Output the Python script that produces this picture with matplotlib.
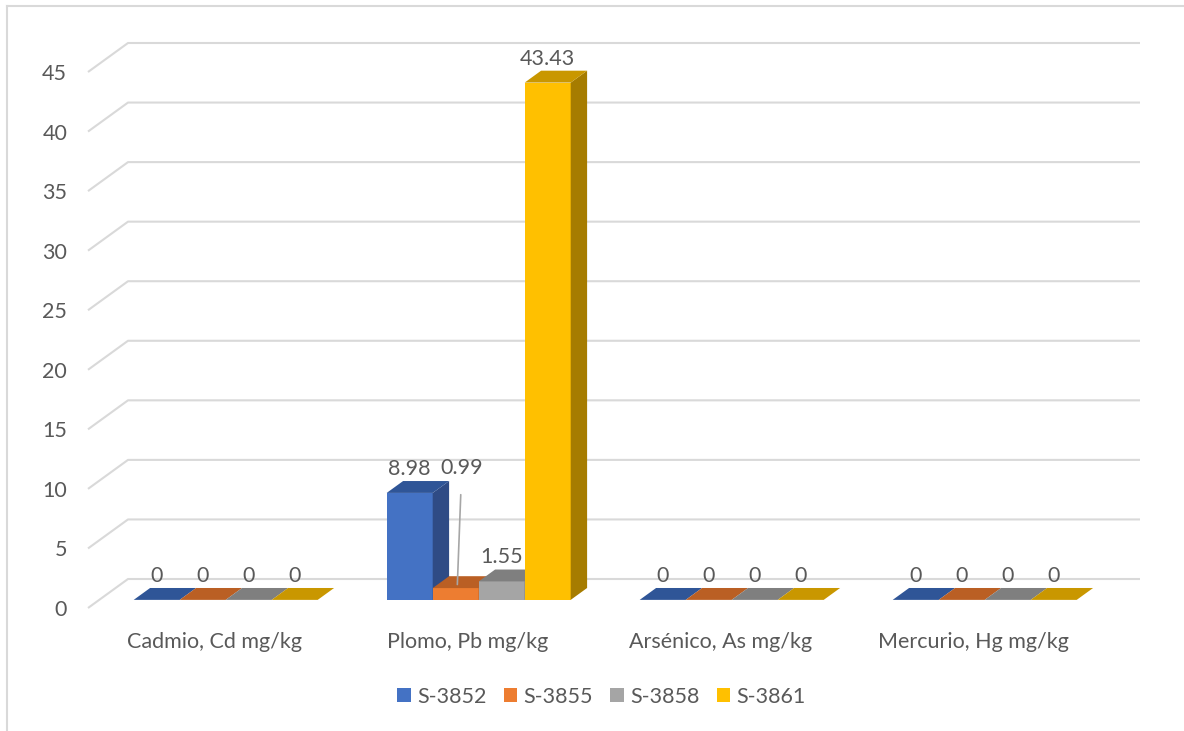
import matplotlib.pyplot as plt
from matplotlib.patches import Polygon, Patch
from matplotlib.lines import Line2D

plt.rcParams['font.family'] = ['Lato', 'DejaVu Sans']

# datos
categorias = ['Cadmio, Cd mg/kg', 'Plomo, Pb mg/kg', 'Arsénico, As mg/kg', 'Mercurio, Hg mg/kg']
series = ['S-3852', 'S-3855', 'S-3858', 'S-3861']
s3852 = [0, 8.98, 0, 0]
s3855 = [0, 0.99, 0, 0]
s3858 = [0, 1.55, 0, 0]
s3861 = [0, 43.43, 0, 0]
valores = [s3852, s3855, s3858, s3861]
yticks = [0, 5, 10, 15, 20, 25, 30, 35, 40, 45]

# colores: frente, lado, tope
colores = [
    ('#4472C4', '#2F4B85', '#2F5597'),
    ('#ED7D31', '#A9581F', '#BA5F24'),
    ('#A5A5A5', '#6E6E6E', '#7F7F7F'),
    ('#FFC000', '#A67C00', '#C99700'),
]
GRID = '#D9D9D9'
TXT = '#595959'
FS = 15.5

W, H = 1184, 731
fig = plt.figure(figsize=(W / 100, H / 100), dpi=100)

# profundidad de la pared en unidades de datos
DX = 40 / 253
DY = 29 / 11.91
ymax = 45

# ejes: borde izq = plano frontal, borde der = pared del fondo
left, right, bottom, top = 88, 1140, 608, 43
ax = fig.add_axes([left / W, 1 - bottom / H, (right - left) / W, (bottom - top) / H])
ax.set_xlim(-0.5, len(categorias) - 0.5 + DX)
ax.set_ylim(0, ymax + DY)
for s in ax.spines.values():
    s.set_visible(False)

# rejilla 3D
x0 = -0.5
x1 = len(categorias) - 0.5 + DX
for v in yticks:
    ax.plot([x0, x0 + DX, x1], [v, v + DY, v + DY], color=GRID, lw=1.5,
            zorder=0, clip_on=False, solid_capstyle='butt')

ax.set_yticks(yticks)
ax.set_yticklabels([str(v) for v in yticks], fontsize=FS, color=TXT)
ax.tick_params(axis='y', length=0, pad=15)
ax.set_xticks(range(len(categorias)))
ax.set_xticklabels(categorias, fontsize=FS, color=TXT)
ax.tick_params(axis='x', length=0, pad=17)

# barras
f = 0.28          # posición del frente de las barras dentro de la profundidad
prof = 0.41       # profundidad de la barra (fracción)
bdx, bdy = prof * DX, prof * DY
ancho = 46 / 253
base = f * DY
z = 2
for i in range(len(categorias)):
    for j, serie in enumerate(valores):
        v = serie[i]
        xc = i + f * DX + (j - 1.5) * ancho
        xl, xr = xc - ancho / 2, xc + ancho / 2
        fr, lado, tope = colores[j]
        ax.bar(xc, v, width=ancho, bottom=base, color=fr, edgecolor='none', zorder=z)
        yt = base + v
        ax.add_patch(Polygon([(xr, base), (xr + bdx, base + bdy), (xr + bdx, yt + bdy), (xr, yt)],
                             closed=True, color=lado, lw=0, zorder=z + 0.1))
        ax.add_patch(Polygon([(xl, yt), (xl + bdx, yt + bdy), (xr + bdx, yt + bdy), (xr, yt)],
                             closed=True, color=tope, lw=0, zorder=z + 0.2))
        z += 1
        etiqueta = f'{v:g}' if v != 0 else '0'
        if serie is s3855 and v > 0:
            # etiqueta desplazada con línea guía
            ax.annotate(etiqueta, xy=(xc + bdx * 0.1, yt + bdy * 0.3),
                        xytext=(xc + 0.024, 11.75), ha='center', va='center',
                        fontsize=FS, color=TXT, zorder=50,
                        arrowprops=dict(arrowstyle='-', color='#A6A6A6', lw=1.2,
                                        shrinkA=10, shrinkB=0))
        else:
            ax.annotate(etiqueta, xy=(xc, yt + bdy), xytext=(0, 1.5),
                        textcoords='offset points', ha='center', va='bottom',
                        fontsize=FS, color=TXT, zorder=50)

# leyenda
handles = [Patch(facecolor=c[0], edgecolor='none') for c in colores]
fig.legend(handles, series, loc='center', bbox_to_anchor=(0.508, 1 - 697 / H),
           ncol=4, frameon=False, fontsize=FS, labelcolor=TXT,
           handlelength=0.62, handleheight=0.62, handletextpad=0.3, columnspacing=0.8)

# borde del gráfico
fig.add_artist(Line2D([7 / W, 7 / W], [0, 1 - 6 / H], color=GRID, lw=1.5))
fig.add_artist(Line2D([7 / W, 1], [1 - 6 / H, 1 - 6 / H], color=GRID, lw=1.5))

fig.savefig('out.png', dpi=100)
